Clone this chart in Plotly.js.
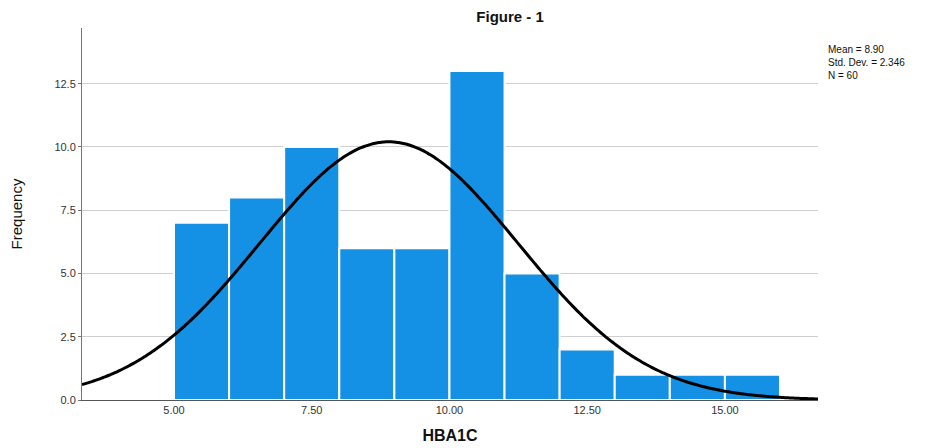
<!DOCTYPE html>
<html><head><meta charset="utf-8">
<script src="https://cdn.plot.ly/plotly-3.0.1.min.js"></script>
<style>html,body{margin:0;padding:0;background:#fff}#chart{width:936px;height:448px}</style>
</head><body><div id="chart"></div>
<script>
// Histogram bins (HBA1C) and counts
var binStarts = [5, 6, 7, 8, 9, 10, 11, 12, 13, 14, 15];
var binWidth = 1;
var counts = [7, 8, 10, 6, 6, 13, 5, 2, 1, 1, 1];
// Summary statistics shown on the chart
var mean = 8.90;
var stdDev = 2.346;
var n = 60;
var statLines = ["Mean = 8.90", "Std. Dev. = 2.346", "N = 60"];
var xTickVals = [5, 7.5, 10, 12.5, 15];
var xTickText = ["5.00", "7.50", "10.00", "12.50", "15.00"];
var yTickVals = [0, 2.5, 5, 7.5, 10, 12.5];
var yTickText = ["0.0", "2.5", "5.0", "7.5", "10.0", "12.5"];

var xRange = [3.33, 16.69];
var centers = binStarts.map(function(s){return s + binWidth/2;});

// Fitted normal curve (scaled to counts) from the displayed mean / SD / N
var cx = [], cy = [];
var steps = 300;
for (var i = 0; i <= steps; i++) {
  var x = xRange[0] + (xRange[1]-xRange[0]) * i / steps;
  var z = (x - mean) / stdDev;
  cx.push(x);
  cy.push(n * binWidth / (stdDev * Math.sqrt(2*Math.PI)) * Math.exp(-0.5*z*z));
}

var data = [
  {type:'bar', x: centers, y: counts, width: binWidth,
   marker:{color:'#1490E4', line:{color:'#ffffff', width:2}},
   hoverinfo:'x+y', showlegend:false},
  {type:'scatter', mode:'lines', x: cx, y: cy,
   line:{color:'#000000', width:3, shape:'spline'}, hoverinfo:'skip', showlegend:false}
];

var plotTop = 28, plotH = 372;

var layout = {
  width: 936, height: 448,
  margin: {l:82, r:118, t:28, b:48},
  paper_bgcolor:'#ffffff', plot_bgcolor:'#ffffff',
  font: {family:'Liberation Sans, Arial, sans-serif', color:'#222'},
  title: {text:'<b>Figure - 1</b>', font:{size:15, color:'#111'}, x:0.545, xanchor:'center', y:0.962, yanchor:'middle'},
  bargap: 0,
  xaxis: {
    range: xRange, tickvals: xTickVals, ticktext: xTickText,
    showgrid:false, zeroline:false, showline:true, linecolor:'#555', linewidth:1,
    ticks:'', tickfont:{size:11, color:'#333'},
    title:{text:'<b>HBA1C</b>', font:{size:16, color:'#111'}, standoff:14}
  },
  yaxis: {
    range: [0, 14.7], tickvals: yTickVals, ticktext: yTickText,
    showgrid:true, gridcolor:'#cfcfcf', gridwidth:1, zeroline:false,
    showline:true, linecolor:'#777', linewidth:1,
    ticks:'outside', ticklen:3, tickcolor:'#777', tickfont:{size:11, color:'#333'},
    title:{text:'Frequency', font:{size:15, color:'#111'}, standoff:28}
  },
  annotations: [{
    xref:'paper', yref:'paper', x:1.0105, y:(plotTop+plotH-42)/plotH,
    xanchor:'left', yanchor:'top', text: statLines.join('<br>'), showarrow:false,
    align:'left', font:{size:10, color:'#111'}
  }]
};

Plotly.newPlot('chart', data, layout, {displayModeBar:false, staticPlot:true});
</script></body></html>
